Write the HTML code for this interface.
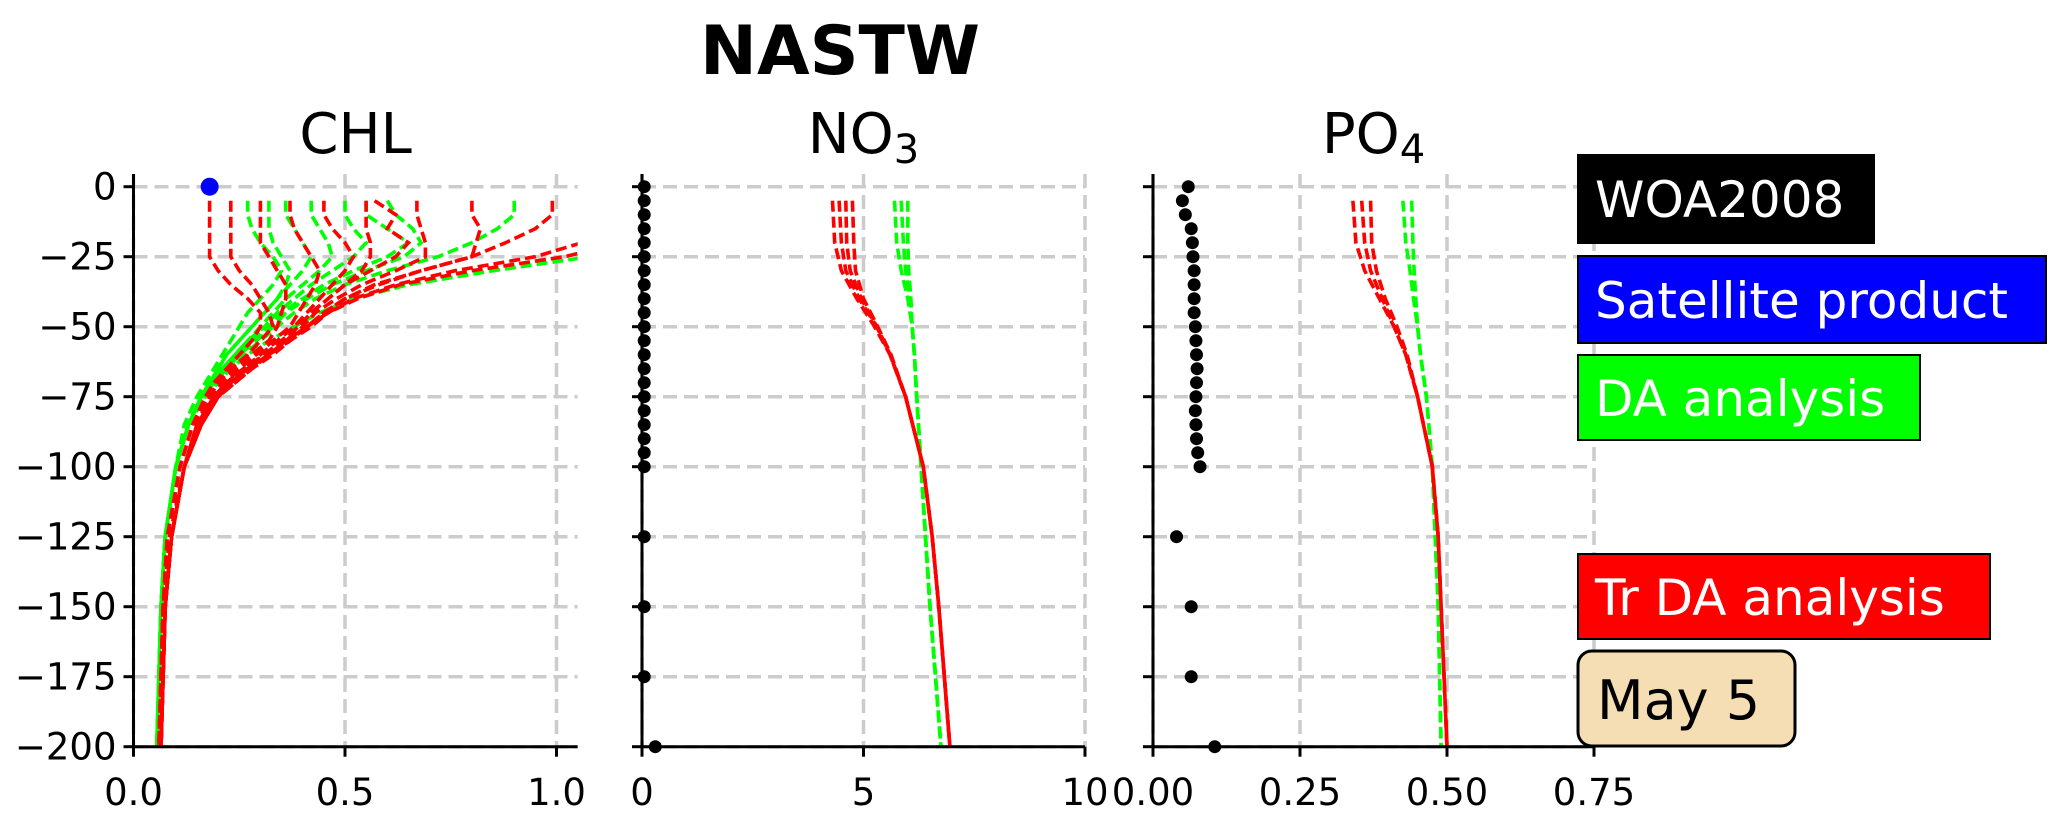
<!DOCTYPE html>
<html><head><meta charset="utf-8"><style>
body{margin:0;background:#fff}
svg{display:block;font-family:"DejaVu Sans","Liberation Sans",sans-serif}
</style></head><body>
<svg id="chart" width="2067" height="820" viewBox="0 0 2067 820" xmlns="http://www.w3.org/2000/svg">
<text x="840" y="74" font-size="68" font-weight="bold" text-anchor="middle">NASTW</text>
<g id="plots"></g>
<g font-size="50" fill="#fff">
<rect x="1578" y="155" width="296" height="88" fill="#000" stroke="#000" stroke-width="2"/>
<text x="1595" y="217" fill="#fff">WOA2008</text>
<rect x="1578" y="256" width="468" height="87" fill="#0000ff" stroke="#000" stroke-width="2"/>
<text x="1595" y="318" fill="#fff">Satellite product</text>
<rect x="1578" y="355" width="342" height="85" fill="#00ff00" stroke="#000" stroke-width="2"/>
<text x="1595" y="416" fill="#fff">DA analysis</text>
<rect x="1578" y="554" width="412" height="85" fill="#ff0000" stroke="#000" stroke-width="2"/>
<text x="1595" y="615" fill="#fff">Tr DA analysis</text>
<rect x="1578" y="651" width="217" height="95" rx="14" fill="#f5deb3" stroke="#000" stroke-width="3"/>
<text x="1597" y="719" fill="#000" font-size="54">May 5</text>
</g>
</svg>
<script>
// depths
const depthsChl = [-5,-10,-15,-20,-25,-30,-35,-40,-45,-50,-55,-60,-65,-70,-75,-85,-100,-125,-150,-200];
const chlRed = [
[0.18,0.18,0.18,0.18,0.18,0.2,0.23,0.27,0.3,0.3,0.28,0.25,0.22,0.19,0.17,0.14,0.11,0.08,0.07,0.06],
[0.23,0.23,0.23,0.23,0.23,0.25,0.28,0.3,0.32,0.33,0.3,0.27,0.23,0.2,0.18,0.14,0.11,0.08,0.07,0.06],
[0.3,0.3,0.3,0.3,0.32,0.34,0.36,0.36,0.35,0.34,0.32,0.28,0.24,0.21,0.18,0.15,0.12,0.085,0.07,0.06],
[0.37,0.37,0.38,0.4,0.42,0.44,0.43,0.41,0.39,0.37,0.33,0.29,0.25,0.22,0.19,0.15,0.12,0.09,0.075,0.065],
[0.45,0.45,0.47,0.5,0.52,0.5,0.47,0.44,0.41,0.38,0.34,0.3,0.26,0.22,0.19,0.15,0.12,0.09,0.075,0.065],
[0.55,0.55,0.55,0.56,0.56,0.54,0.5,0.46,0.42,0.39,0.35,0.31,0.26,0.22,0.19,0.15,0.12,0.09,0.075,0.065],
[0.57,0.62,0.6,0.65,0.62,0.56,0.5,0.46,0.42,0.39,0.35,0.31,0.27,0.23,0.2,0.16,0.12,0.09,0.075,0.065],
[0.67,0.67,0.68,0.69,0.69,0.62,0.54,0.48,0.43,0.4,0.36,0.32,0.27,0.23,0.2,0.16,0.12,0.09,0.075,0.065],
[0.8,0.8,0.82,0.81,0.8,0.68,0.57,0.5,0.45,0.41,0.37,0.32,0.28,0.24,0.2,0.16,0.12,0.09,0.075,0.065],
[0.99,0.99,0.95,0.88,0.8,0.68,0.58,0.5,0.45,0.41,0.37,0.32,0.28,0.24,0.2,0.16,0.12,0.09,0.075,0.065],
[1.2,1.2,1.15,1.06,0.95,0.76,0.62,0.52,0.46,0.42,0.37,0.33,0.28,0.24,0.2,0.16,0.12,0.09,0.075,0.065],
[1.3,1.3,1.25,1.15,1.02,0.8,0.63,0.53,0.46,0.41,0.36,0.32,0.27,0.23,0.2,0.16,0.12,0.09,0.075,0.065]
];
const chlGreen = [
[0.32,0.32,0.32,0.33,0.35,0.37,0.36,0.34,0.31,0.28,0.25,0.22,0.2,0.18,0.16,0.13,0.1,0.075,0.065,0.055],
[0.36,0.36,0.38,0.4,0.42,0.4,0.37,0.34,0.31,0.28,0.25,0.22,0.2,0.18,0.16,0.13,0.1,0.075,0.065,0.055],
[0.42,0.42,0.44,0.46,0.47,0.44,0.4,0.36,0.33,0.3,0.27,0.24,0.21,0.18,0.16,0.13,0.1,0.075,0.065,0.055],
[0.5,0.5,0.52,0.55,0.52,0.47,0.42,0.38,0.34,0.31,0.27,0.24,0.21,0.18,0.16,0.13,0.1,0.075,0.065,0.055],
[0.55,0.55,0.6,0.65,0.6,0.52,0.45,0.4,0.35,0.32,0.28,0.25,0.22,0.19,0.16,0.13,0.1,0.075,0.065,0.055],
[0.6,0.62,0.66,0.68,0.64,0.55,0.47,0.41,0.36,0.33,0.29,0.25,0.22,0.19,0.16,0.13,0.1,0.075,0.065,0.055],
[0.9,0.9,0.86,0.8,0.72,0.6,0.5,0.43,0.38,0.34,0.3,0.26,0.22,0.19,0.16,0.13,0.1,0.075,0.065,0.055],
[1.3,1.3,1.25,1.18,1.08,0.85,0.65,0.52,0.44,0.38,0.32,0.27,0.23,0.2,0.17,0.13,0.1,0.075,0.065,0.055],
[0.27,0.27,0.28,0.3,0.33,0.35,0.33,0.3,0.27,0.25,0.23,0.21,0.19,0.17,0.15,0.12,0.1,0.075,0.065,0.055]
];
const satValue = [0.18];
const satDepth = [0];
const depthsNut = [-5,-20,-30,-40,-50,-60,-75,-100,-125,-150,-200];
const no3Red = [
[4.3,4.35,4.5,4.85,5.25,5.6,5.95,6.35,6.55,6.7,6.95],
[4.45,4.5,4.6,4.9,5.3,5.6,5.95,6.35,6.55,6.7,6.95],
[4.6,4.62,4.7,4.95,5.3,5.6,5.95,6.35,6.55,6.7,6.95],
[4.75,4.78,4.82,5.0,5.32,5.62,5.95,6.35,6.55,6.7,6.95]
];
const no3Green = [
[5.7,5.75,5.85,6.0,6.1,6.15,6.2,6.3,6.4,6.5,6.75],
[5.85,5.9,5.95,6.05,6.1,6.15,6.2,6.3,6.4,6.5,6.75],
[6.0,6.0,6.02,6.07,6.1,6.15,6.2,6.3,6.4,6.5,6.75]
];
const po4Red = [
[0.34,0.345,0.36,0.385,0.41,0.43,0.45,0.475,0.485,0.49,0.5],
[0.355,0.36,0.37,0.39,0.41,0.43,0.45,0.475,0.485,0.49,0.5],
[0.37,0.372,0.38,0.395,0.415,0.432,0.45,0.475,0.485,0.49,0.5]
];
const po4Green = [
[0.425,0.43,0.437,0.443,0.45,0.455,0.465,0.475,0.48,0.485,0.49],
[0.44,0.442,0.444,0.447,0.45,0.455,0.465,0.475,0.48,0.485,0.49]
];
const woaDepths = [0,-5,-10,-15,-20,-25,-30,-35,-40,-45,-50,-55,-60,-65,-70,-75,-80,-85,-90,-95,-100,-125,-150,-175,-200];
const woaNo3 = [0.05,0.05,0.05,0.05,0.05,0.05,0.05,0.05,0.05,0.05,0.05,0.05,0.05,0.05,0.05,0.05,0.05,0.05,0.05,0.05,0.05,0.05,0.05,0.05,0.3];
const woaPo4 = [0.06,0.05,0.055,0.065,0.067,0.068,0.07,0.07,0.07,0.07,0.072,0.073,0.074,0.075,0.074,0.073,0.072,0.073,0.074,0.076,0.08,0.04,0.065,0.065,0.105];
const yTicks = [0,-25,-50,-75,-100,-125,-150,-175,-200];
const chlTicks = [0.0,0.5,1.0], chlLabels = ["0.0","0.5","1.0"];
const no3Ticks = [0,5,10], no3Labels = ["0","5","10"];
const po4Ticks = [0,0.25,0.5,0.75], po4Labels = ["0.00","0.25","0.50","0.75"];

const NS = "http://www.w3.org/2000/svg";
const root = document.getElementById('plots');
const top0 = 186.7, pxPerM = 2.8;
const y = d => top0 - d * pxPerM;
function mk(tag, attrs, parent){const e=document.createElementNS(NS,tag);for(const k in attrs)e.setAttribute(k,attrs[k]);parent.appendChild(e);return e;}

function panel(id, title, sub, x0, pxPerUnit, xmax, ticks, labels, red, green, woa, sat){
  const X = v => x0 + v * pxPerUnit;
  const right = X(xmax);
  const g = mk('g', {}, root);
  
  
  const cp = mk('clipPath', {id: id + '-clip'}, g);
  mk('rect', {x: x0, y: 170, width: right - x0, height: 580}, cp);
  yTicks.forEach(t => {
    const l = mk('line', {x1: x0, x2: right, y1: y(t), y2: y(t), stroke: '#cccccc', 'stroke-width': 3.5, 'stroke-dasharray': '14,7'}, g);
    
    
  });
  ticks.forEach(t => {
    const l = mk('line', {x1: X(t), x2: X(t), y1: 174, y2: y(-200), stroke: '#cccccc', 'stroke-width': 3.5, 'stroke-dasharray': '14,7'}, g);
    
    
  });
  const lines = mk('g', {'clip-path': 'url(#' + id + '-clip)'}, g);
  const draw = (arr, depths, col, name) => arr.forEach(p => {
    const pts = p.map((v, i) => X(v).toFixed(1) + ',' + y(depths[i]).toFixed(1)).join(' ');
    const pl = mk('polyline', {points: pts, fill: 'none', stroke: col, 'stroke-width': 3.6, 'stroke-dasharray': '11,5'}, lines);
    
    
  });
  const deps = id === 'chl' ? depthsChl : depthsNut;
  draw(green, deps, '#00ff00', 'da-analysis-profile');
  draw(red, deps, '#ff0000', 'tr-da-analysis-profile');
  if (woa) woa.forEach((v, i) => {
    const c = mk('circle', {cx: X(v), cy: y(woaDepths[i]), r: 6.5, fill: '#000'}, g);
    
    
  });
  if (sat) sat.forEach((v, i) => {
    const c = mk('circle', {cx: X(v), cy: y(satDepth[i]), r: 9, fill: '#0000ff'}, g);
    
    
  });
  const sl = mk('line', {x1: x0, x2: x0, y1: 174, y2: y(-200) + 1, stroke: '#000', 'stroke-width': 3}, g);
  
  
  const sb = mk('line', {x1: x0 - 1, x2: right, y1: y(-200), y2: y(-200), stroke: '#000', 'stroke-width': 3}, g);
  
  
  yTicks.forEach(t => {
    mk('line', {x1: x0 - 10, x2: x0, y1: y(t), y2: y(t), stroke: '#000', 'stroke-width': 3}, g);
    if (id === 'chl') {
      const tx = mk('text', {x: x0 - 17, y: y(t) + 13, 'font-size': 37, 'text-anchor': 'end'}, g);
      tx.textContent = String(t).replace('-', '\u2212');
      
      
    }
  });
  ticks.forEach((t, i) => {
    mk('line', {x1: X(t), x2: X(t), y1: y(-200), y2: y(-200) + 10, stroke: '#000', 'stroke-width': 3}, g);
    const tx = mk('text', {x: X(t), y: 805, 'font-size': 37, 'text-anchor': 'middle'}, g);
    tx.textContent = labels[i];
    
    
  });
  const tt = mk('text', {x: (x0 + right) / 2, y: 153, 'font-size': 56, 'text-anchor': 'middle'}, g);
  tt.textContent = title;
  if (sub) { const ts = mk('tspan', {'font-size': 40, dy: 10}, tt); ts.textContent = sub; }
  
  
}
panel('chl', 'CHL', '', 133.5, 423, 1.05, chlTicks, chlLabels, chlRed, chlGreen, null, satValue);
panel('no3', 'NO', '3', 642, 44.3, 10, no3Ticks, no3Labels, no3Red, no3Green, woaNo3, null);
panel('po4', 'PO', '4', 1153, 588, 0.75, po4Ticks, po4Labels, po4Red, po4Green, woaPo4, null);
</script>
</body></html>
